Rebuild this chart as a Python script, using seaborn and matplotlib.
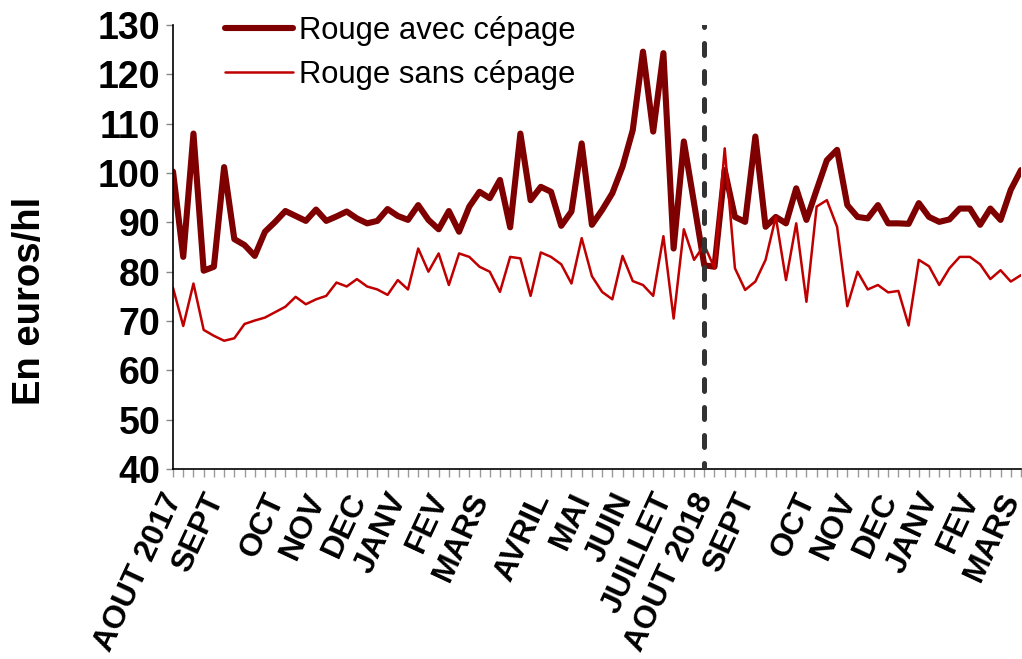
import matplotlib.pyplot as plt
import matplotlib.transforms as mtransforms
import numpy as np
import pandas as pd
import seaborn as sns

sns.set_theme(style='ticks')
plt.rcParams['font.family'] = ['Liberation Sans', 'DejaVu Sans']
plt.rcParams['text.color'] = 'black'
plt.rcParams['axes.labelcolor'] = 'black'
plt.rcParams['xtick.labelcolor'] = 'black'
plt.rcParams['ytick.labelcolor'] = 'black'

# prix hebdomadaires (euros/hl)
avec_cepage = [100.3, 83, 108, 80.2, 81, 101.2, 86.6, 85.4, 83.2, 88.1,
               90.1, 92.3, 91.3, 90.3, 92.6, 90.3, 91.2, 92.2, 90.8, 89.8,
               90.3, 92.7, 91.3, 90.5, 93.5, 90.5, 88.6, 92.3, 88.1, 93.2,
               96.2, 94.9, 98.6, 89, 108, 94.5, 97.2, 96.2, 89.3, 92.2,
               106, 89.5, 92.5, 95.9, 101.3, 108.7, 124.6, 108.4, 124.3, 84.7,
               106.4, 93.9, 81.3, 81, 100.6, 91.1, 90.1, 107.4, 89.1, 91.1,
               89.8, 96.9, 90.5, 96.6, 102.6, 104.7, 93.5, 91.1, 90.8, 93.5,
               89.8, 89.8, 89.7, 93.9, 91.1, 90.1, 90.6, 92.8, 92.8, 89.5,
               92.8, 90.5, 96.6, 100.6]
sans_cepage = [76.7, 69, 77.6, 68.2, 67, 66, 66.5, 69.4, 70.1, 70.7,
               71.8, 72.9, 74.9, 73.4, 74.4, 75.1, 77.8, 77, 78.5, 77,
               76.4, 75.3, 78.3, 76.4, 84.7, 80, 83.7, 77.3, 83.7, 83,
               81, 80, 75.9, 83, 82.7, 75.1, 83.9, 83, 81.5, 77.6,
               86.8, 79.1, 75.9, 74.4, 83.2, 78.1, 77.3, 75.1, 87.2, 70.5,
               88.6, 82.4, 85.4, 80.7, 105, 80.7, 76.3, 78, 82.4, 91.1,
               78.3, 89.8, 73.9, 93.2, 94.5, 89.1, 73, 80, 76.4, 77.3,
               75.8, 76.1, 69.1, 82.4, 81.1, 77.3, 80.7, 83, 83, 81.5,
               78.5, 80.3, 78, 79.3]

mois = ['AOUT 2017', 'SEPT', 'OCT', 'NOV', 'DEC', 'JANV', 'FEV', 'MARS',
        'AVRIL', 'MAI', 'JUIN', 'JUILLET', 'AOUT 2018', 'SEPT', 'OCT',
        'NOV', 'DEC', 'JANV', 'FEV', 'MARS']
mois_pos = [0, 4, 10, 14, 18, 22, 26, 30, 36, 40, 44, 48, 52, 56, 62,
            66, 70, 74, 78, 82]
semaine_rupture = 52

semaine = np.arange(len(avec_cepage))
df = pd.DataFrame({'semaine': semaine,
                   'avec': avec_cepage,
                   'sans': sans_cepage})

fig = plt.figure(figsize=(10.22, 6.59), dpi=100)
ax = fig.add_axes([0.1693, 0.2883, 0.8297, 0.6737])

sns.lineplot(data=df, x='semaine', y='avec', color='#7F0000', linewidth=4.4,
             label='Rouge avec cépage', ax=ax)
sns.lineplot(data=df, x='semaine', y='sans', color='#C00000', linewidth=1.8,
             label='Rouge sans cépage', ax=ax)

# ligne de séparation août 2018
ax.axvline(semaine_rupture, color='#333333', linewidth=3.6,
           linestyle=(1.2, (2.4, 3.2)), dash_capstyle='round', zorder=5)

ax.set_xlim(0, len(avec_cepage) - 1)
ax.set_ylim(40, 130)
ax.set_yticks(range(40, 131, 10))
ax.set_xticks(semaine)
ax.set_xticklabels([])
for lab in ax.get_yticklabels():
    lab.set_fontsize(27)
    lab.set_fontweight('bold')

# étiquettes des mois (placées à la main sous l'axe)
decal = mtransforms.ScaledTranslation(2 / 100, -25.5 / 100, fig.dpi_scale_trans)
trans_mois = ax.get_xaxis_transform() + decal
for pos, nom in zip(mois_pos, mois):
    ax.text(pos, 0, nom, transform=trans_mois, rotation=65,
            rotation_mode='anchor', ha='right', va='center',
            fontsize=23, fontweight='bold', clip_on=False)

ax.tick_params(axis='y', length=5, width=1, color='#888888', pad=4)
ax.tick_params(axis='x', length=6, width=1, color='#999999', pad=4)

for s in ['top', 'right']:
    ax.spines[s].set_visible(False)
for s in ['left', 'bottom']:
    ax.spines[s].set_color('black')
    ax.spines[s].set_linewidth(1.2)

ax.set_xlabel('')
ax.set_ylabel('En euros/hl', fontsize=27.5, fontweight='bold')
ax.yaxis.set_label_coords(-0.147, 0.378)

ax.legend(loc='upper left', bbox_to_anchor=(0.043, 1.055), frameon=False,
          fontsize=22.3, handlelength=2.2, borderpad=0, labelspacing=0.45,
          handletextpad=0.2)

plt.savefig('out.png', dpi=100)
